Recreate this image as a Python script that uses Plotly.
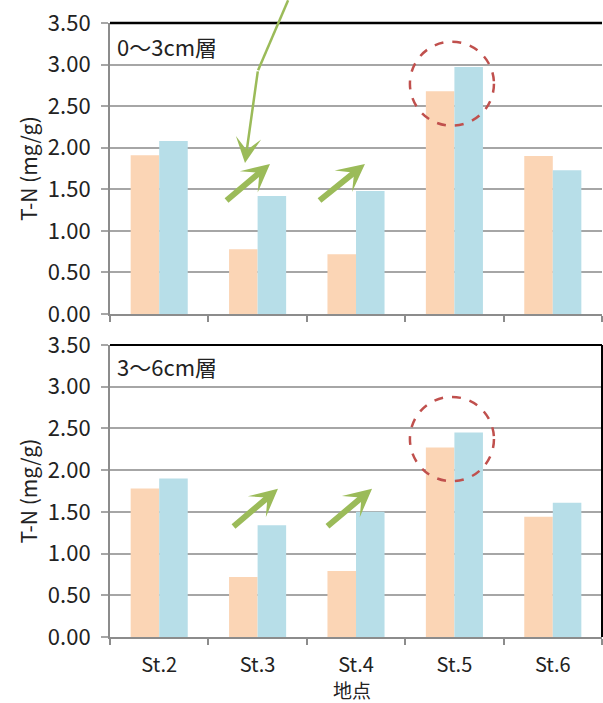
import plotly.graph_objects as go
from plotly.subplots import make_subplots

stations = ["St.2", "St.3", "St.4", "St.5", "St.6"]
top_orange = [1.91, 0.78, 0.72, 2.68, 1.90]
top_blue = [2.08, 1.42, 1.48, 2.97, 1.73]
bot_orange = [1.78, 0.72, 0.79, 2.27, 1.44]
bot_blue = [1.90, 1.34, 1.50, 2.45, 1.61]
layer_labels = ["0～3cm層", "3～6cm層"]
y_ticks = [0, 0.5, 1.0, 1.5, 2.0, 2.5, 3.0, 3.5]
y_title = "T-N (mg/g)"
x_title = "地点"

ORANGE = "#FBD5B5"
BLUE = "#B7DEE8"
GREEN = "#9BBB59"
RED = "#C0504D"
GRID = "#A6A6A6"
FONT = "Noto Sans CJK JP"

fig = make_subplots(rows=2, cols=1, shared_xaxes=False, vertical_spacing=0.0505)
fig.update_layout(yaxis=dict(domain=[0.526, 1.0]), yaxis2=dict(domain=[0.0, 0.4756]))

for row, (o, b) in enumerate([(top_orange, top_blue), (bot_orange, bot_blue)], start=1):
    fig.add_trace(go.Bar(x=stations, y=o, marker=dict(color=ORANGE, line=dict(width=0)),
                         showlegend=False, hoverinfo="skip"), row=row, col=1)
    fig.add_trace(go.Bar(x=stations, y=b, marker=dict(color=BLUE, line=dict(width=0)),
                         showlegend=False, hoverinfo="skip"), row=row, col=1)

fig.update_layout(
    width=603, height=703,
    margin=dict(l=110, r=1, t=23, b=66),
    plot_bgcolor="white", paper_bgcolor="white",
    barmode="group", bargap=0.42, bargroupgap=0,
    font=dict(family=FONT, color="#222222", size=20),
)

for i in (1, 2):
    fig.update_xaxes(row=i, col=1, type="category", tickson="boundaries", ticks="outside",
                     ticklen=6, tickcolor="#8C8C8C", tickwidth=1.5, automargin=False,
                     showline=True, linecolor="#8C8C8C", linewidth=2, showgrid=False,
                     showticklabels=(i == 2), tickfont=dict(size=20, family=FONT),
                     ticklabelstandoff=9, range=[-0.5, 4.5])
    fig.update_yaxes(row=i, col=1, range=[0, 3.5], tickvals=y_ticks, automargin=False,
                     tickformat=".2f", ticks="outside", ticklen=7, tickcolor=GRID, tickwidth=1.5,
                     showline=True, linecolor="#8C8C8C", linewidth=2,
                     showgrid=True, gridcolor=GRID, gridwidth=1.5,
                     tickfont=dict(size=22, family=FONT), ticklabelstandoff=6,
                     title=dict(text=y_title, font=dict(size=21, family=FONT), standoff=4))

# black top and right borders of the plot areas
fig.add_shape(type="line", xref="paper", yref="paper", x0=0, x1=1, y0=1, y1=1,
              line=dict(color="black", width=2.5))
fig.add_shape(type="line", xref="paper", yref="paper", x0=0, x1=1, y0=0.4756, y1=0.4756,
              line=dict(color="black", width=2))
fig.add_shape(type="line", xref="paper", yref="paper", x0=1, x1=1, y0=0, y1=0.4756,
              line=dict(color="black", width=2))

# layer labels
fig.add_annotation(text=layer_labels[0], xref="paper", yref="paper", x=0.01, y=0.963,
                   xanchor="left", yanchor="middle", showarrow=False, font=dict(size=22))
fig.add_annotation(text=layer_labels[1], xref="paper", yref="paper", x=0.01, y=0.442,
                   xanchor="left", yanchor="middle", showarrow=False, font=dict(size=22))

# x axis title
fig.add_annotation(text=x_title, xref="paper", yref="paper", x=0.492, y=-0.0847,
                   xanchor="center", yanchor="middle", showarrow=False, font=dict(size=19))

# thick green arrows
arrows = [
    ("x", "y", 0.669, 1.351, 1.126, 1.805),
    ("x", "y", 1.614, 1.351, 2.091, 1.805),
    ("x2", "y2", 0.740, 1.309, 1.207, 1.777),
    ("x2", "y2", 1.695, 1.312, 2.163, 1.777),
]
for xr, yr, ax, ay, x, y in arrows:
    fig.add_annotation(xref=xr, yref=yr, axref=xr, ayref=yr, x=x, y=y, ax=ax, ay=ay,
                       text="", showarrow=True, arrowhead=3, arrowwidth=6, arrowsize=0.77,
                       arrowcolor=GREEN)

# thin callout line + arrow
fig.add_shape(type="line", xref="paper", yref="paper", x0=0.362, y0=1.037, x1=0.301, y1=0.923,
              line=dict(color=GREEN, width=2.5))
fig.add_annotation(xref="x", yref="y", axref="x", ayref="y", x=0.872, y=1.817, ax=1.004, ay=2.936,
                   text="", showarrow=True, arrowhead=3, arrowwidth=2.5, arrowsize=1.7,
                   arrowcolor=GREEN)

# dashed red circles
fig.add_shape(type="circle", xref="x", yref="y", x0=2.975 - 0.427, x1=2.975 + 0.427,
              y0=2.77 - 0.505, y1=2.77 + 0.505, line=dict(color=RED, width=2.5, dash="dash"))
fig.add_shape(type="circle", xref="x2", yref="y2", x0=2.975 - 0.427, x1=2.975 + 0.427,
              y0=2.373 - 0.505, y1=2.373 + 0.505, line=dict(color=RED, width=2.5, dash="dash"))

fig.write_html("out.html", config={"displayModeBar": False},
               post_script="document.body.style.margin='0';")
